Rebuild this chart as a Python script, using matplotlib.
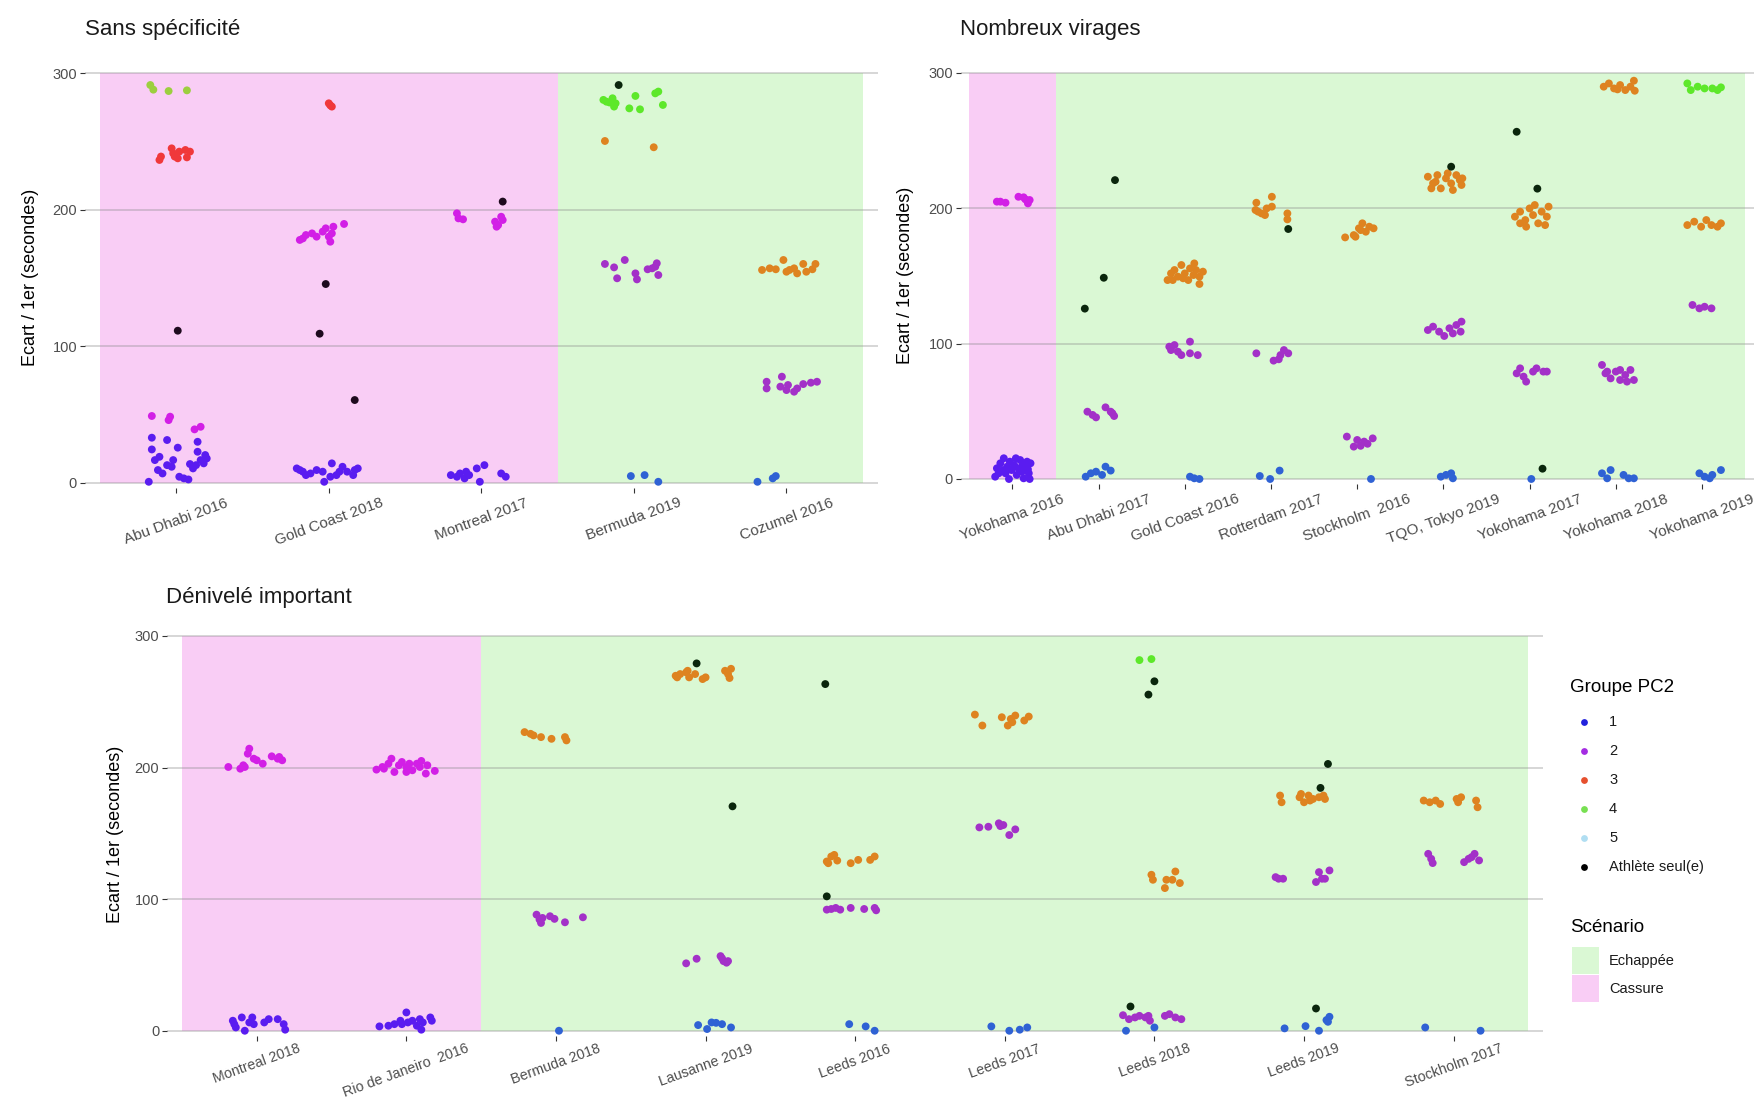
import matplotlib
matplotlib.use("Agg")
import matplotlib.pyplot as plt
from matplotlib.patches import Rectangle

plt.rcParams['font.family'] = ['Liberation Sans', 'DejaVu Sans']

# ---------------- DATA ----------------
# each point: (category index, jitter offset, gap to winner in seconds)
SS_CATS = ["Abu Dhabi 2016", "Gold Coast 2018", "Montreal 2017", "Bermuda 2019", "Cozumel 2016"]
SS_SCEN = ["Cassure", "Cassure", "Cassure", "Echappée", "Echappée"]
SS_G1 = [(1,-0.16,33.0),(1,-0.16,24.4),(1,-0.06,31.3),(1,0.01,25.7),(1,0.14,30.0),(1,-0.14,16.6),(1,-0.11,19.0),
         (1,-0.09,6.8),(1,-0.03,11.7),(1,-0.02,16.6),(1,0.02,4.4),(1,0.08,2.4),(1,0.09,13.7),(1,0.11,10.5),
         (1,0.14,22.7),(1,0.16,16.6),(1,0.18,14.2),(1,0.20,17.8),(1,-0.18,0.7),(1,0.05,3.2),(1,0.13,12.9),
         (1,0.19,20.3),(1,-0.06,12.9),(1,-0.12,9.3),
         (2,-0.21,10.5),(2,-0.17,8.1),(2,-0.12,6.8),(2,-0.04,8.1),(2,-0.03,0.7),(2,0.02,14.2),(2,0.05,5.6),
         (2,0.09,11.7),(2,0.12,8.1),(2,0.16,5.6),(2,0.19,10.5),(2,-0.19,9.3),(2,-0.15,5.6),(2,-0.08,9.3),
         (2,0.01,4.4),(2,0.07,8.1),(2,0.17,9.3),
         (3,-0.20,5.6),(3,-0.14,6.8),(3,-0.11,3.2),(3,-0.08,5.6),(3,-0.03,10.5),(3,-0.01,0.7),(3,0.02,12.9),
         (3,0.13,6.8),(3,0.16,4.4),(3,-0.16,4.4),(3,-0.10,8.1),
         (4,-0.02,4.9),(4,0.07,5.6),(4,0.16,0.7),
         (5,-0.19,0.7),(5,-0.09,3.2),(5,-0.07,4.9)]
SS_G2 = [(1,-0.16,48.9),(1,-0.05,45.9),(1,-0.04,48.4),(1,0.12,39.1),(1,0.16,41.0),
         (2,-0.19,177.9),(2,-0.15,181.5),(2,-0.11,182.7),(2,-0.04,184.0),(2,0.00,180.3),(2,0.01,176.6),
         (2,0.03,187.6),(2,0.10,189.6),(2,-0.17,179.0),(2,-0.02,186.4),(2,0.02,182.7),(2,-0.08,180.3),
         (3,-0.16,197.4),(3,-0.15,193.7),(3,-0.12,193.0),(3,0.09,191.3),(3,0.11,188.8),(3,0.13,194.9),
         (3,0.10,187.6),(3,0.14,192.5),
         (4,-0.19,160.3),(4,-0.13,157.8),(4,-0.06,163.2),(4,-0.11,149.8),(4,0.01,153.4),(4,0.02,149.0),
         (4,0.09,156.4),(4,0.14,158.3),(4,0.16,152.2),(4,0.15,160.8),(4,0.12,157.1),
         (5,-0.13,74.0),(5,-0.03,77.7),(5,-0.04,70.4),(5,0.01,71.6),(5,0.05,66.7),(5,0.11,72.3),(5,0.16,73.3),
         (5,0.20,74.0),(5,0.00,67.9),(5,0.07,69.1),(5,-0.13,69.1)]
SS_G3 = [(1,-0.11,236.5),(1,-0.10,239.0),(1,-0.03,245.0),(1,-0.01,239.0),(1,0.02,242.6),(1,0.06,243.8),
         (1,0.07,238.4),(1,0.09,242.6),(1,-0.02,241.4),(1,0.01,237.7),
         (2,0.00,278.0),(2,0.02,275.6),(2,0.01,276.5),
         (4,-0.19,250.4),(4,0.13,245.8),
         (5,-0.16,155.9),(5,-0.11,157.1),(5,-0.02,163.2),(5,0.00,154.6),(5,0.05,157.1),(5,0.11,160.3),
         (5,0.13,154.6),(5,0.19,160.3),(5,-0.07,156.4),(5,0.07,153.4),(5,0.17,156.4),(5,0.02,155.9)]
SS_G4 = [(1,-0.17,291.4),(1,-0.15,288.0),(1,-0.05,287.0),(1,0.07,287.5),
         (4,-0.20,280.5),(4,-0.18,279.2),(4,-0.14,281.7),(4,-0.12,278.0),(4,-0.13,275.6),(4,-0.03,274.3),
         (4,0.01,283.4),(4,0.04,273.6),(4,0.14,285.3),(4,0.16,286.6),(4,0.19,276.8),(4,-0.16,278.6)]
SS_ALONE = [(1,0.01,111.4),(2,-0.02,145.6),(2,-0.06,109.2),(2,0.17,60.6),(3,0.14,206.0),(4,-0.10,291.4)]

NV_CATS = ["Yokohama 2016", "Abu Dhabi 2017", "Gold Coast 2016", "Rotterdam 2017", "Stockholm  2016",
           "TQO, Tokyo 2019", "Yokohama 2017", "Yokohama 2018", "Yokohama 2019"]
NV_SCEN = ["Cassure"] + ["Echappée"] * 8
NV_G1 = [(1,-0.20,1.7),(1,-0.18,7.9),(1,-0.14,11.6),(1,-0.10,15.3),(1,-0.08,4.2),(1,-0.06,9.1),(1,-0.04,0.0),
         (1,-0.03,12.8),(1,-0.01,6.6),(1,0.02,10.3),(1,0.05,3.0),(1,0.07,7.9),(1,0.09,14.0),(1,0.11,5.4),
         (1,0.13,0.5),(1,0.15,9.1),(1,0.17,12.8),(1,0.19,4.2),(1,0.20,0.0),(1,0.21,11.6),(1,-0.16,4.2),
         (1,-0.11,6.6),(1,0.04,15.3),(1,0.12,11.1),(1,0.18,7.1),
         (2,-0.15,1.7),(2,-0.09,4.2),(2,-0.03,5.4),(2,0.04,3.0),(2,0.08,9.1),(2,0.14,6.2),
         (3,0.06,1.7),(3,0.11,0.5),(3,0.17,0.0),
         (4,-0.13,2.2),(4,-0.01,0.0),(4,0.10,6.2),
         (5,0.16,0.0),
         (6,-0.03,1.7),(6,0.03,3.0),(6,0.09,4.2),(6,0.11,0.5),
         (7,0.02,0.0),
         (8,-0.16,4.2),(8,-0.10,0.5),(8,-0.06,6.6),(8,0.09,3.0),(8,0.15,0.5),(8,0.21,0.5),
         (9,-0.03,4.2),(9,0.03,1.7),(9,0.09,0.5),(9,0.12,3.0),(9,0.22,6.6)]
NV_G2 = [(1,-0.18,204.8),(1,-0.08,204.0),(1,0.07,208.4),(1,0.13,208.0),(1,0.18,203.5),(1,0.20,206.0),
         (1,-0.14,204.8),(1,0.15,206.5),
         (2,-0.13,49.7),(2,-0.07,47.3),(2,-0.03,45.5),(2,0.08,52.9),(2,0.14,49.7),(2,0.18,46.5),(2,0.16,48.5),
         (3,-0.18,97.7),(3,-0.12,98.9),(3,-0.08,94.0),(3,-0.04,91.5),(3,0.06,101.4),(3,0.06,92.8),(3,0.15,91.5),
         (3,-0.16,95.2),
         (4,-0.17,92.8),(4,0.03,87.4),(4,0.11,91.5),(4,0.15,95.2),(4,0.20,92.8),(4,0.09,88.4),
         (5,-0.12,31.3),(5,-0.04,23.9),(5,0.00,28.8),(5,0.08,27.6),(5,0.18,30.0),(5,0.04,24.5),(5,0.12,26.0),
         (6,-0.18,110.0),(6,-0.12,112.5),(6,-0.05,108.8),(6,0.01,105.6),(6,0.07,111.3),(6,0.15,113.7),
         (6,0.21,116.2),(6,0.20,108.8),(6,0.11,107.5),
         (7,-0.15,78.0),(7,-0.11,81.7),(7,-0.07,75.6),(7,-0.04,71.9),(7,0.04,79.3),(7,0.08,81.7),(7,0.16,79.3),
         (7,0.20,79.3),
         (8,-0.16,84.2),(8,-0.10,79.3),(8,-0.06,74.3),(8,0.00,79.3),(8,0.05,73.1),(8,0.11,76.8),(8,0.17,80.5),
         (8,0.21,73.1),(8,-0.12,78.0),(8,0.05,80.5),(8,0.13,71.9),
         (9,-0.11,128.5),(9,-0.03,126.0),(9,0.03,127.2),(9,0.11,126.0)]
NV_G3 = [(3,-0.20,146.9),(3,-0.16,151.8),(3,-0.12,154.3),(3,-0.08,149.4),(3,-0.04,158.0),(3,0.00,151.8),
         (3,0.04,146.9),(3,0.06,155.5),(3,0.10,150.6),(3,0.13,154.3),(3,0.17,149.4),(3,0.21,153.1),
         (3,0.17,144.0),(3,-0.14,146.9),(3,0.11,159.2),(3,-0.02,148.2),
         (4,-0.17,204.0),(4,0.01,208.4),(4,-0.15,197.4),(4,-0.11,196.1),(4,-0.05,199.8),(4,0.01,201.1),
         (4,-0.07,194.9),(4,0.19,196.1),(4,0.19,191.7),(4,-0.18,198.6),
         (5,-0.14,178.4),(5,-0.02,178.9),(5,0.02,185.1),(5,-0.04,180.1),(5,0.06,188.8),(5,0.14,186.3),
         (5,0.19,185.1),(5,0.04,183.8),(5,0.10,182.6),
         (6,-0.18,223.2),(6,-0.12,218.3),(6,-0.07,224.4),(6,-0.03,214.6),(6,0.03,222.0),(6,0.09,218.3),
         (6,0.15,224.4),(6,0.21,217.1),(6,0.22,222.0),(6,-0.14,214.6),(6,0.11,213.4),(6,0.19,220.8),
         (6,-0.09,219.5),(6,0.05,225.7),
         (7,-0.17,193.7),(7,-0.11,197.4),(7,-0.05,191.2),(7,0.00,199.8),(7,0.04,194.9),(7,0.10,188.8),
         (7,0.14,197.4),(7,0.20,193.7),(7,0.22,201.1),(7,-0.04,186.3),(7,0.06,202.3),(7,0.18,187.5),
         (7,-0.11,188.8),
         (8,-0.14,289.7),(8,-0.08,292.1),(8,-0.02,288.4),(8,0.05,290.9),(8,0.11,287.2),(8,0.17,289.7),
         (8,0.21,294.1),(8,0.22,286.7),(8,0.02,287.7),
         (9,-0.17,187.5),(9,-0.09,190.0),(9,-0.01,186.3),(9,0.05,191.2),(9,0.11,187.5),(9,0.18,186.3),
         (9,0.22,188.8)]
NV_G4 = [(9,-0.17,292.1),(9,-0.13,287.2),(9,-0.05,289.7),(9,0.03,288.4),(9,0.12,288.4),(9,0.18,287.2),
         (9,0.22,289.2)]
NV_ALONE = [(2,0.19,220.7),(2,0.06,148.6),(2,-0.16,125.8),(4,0.20,184.6),(6,0.09,230.6),(7,-0.15,256.4),
            (7,0.09,214.4),(7,0.15,7.6)]

DI_CATS = ["Montreal 2018", "Rio de Janeiro  2016", "Bermuda 2018", "Lausanne 2019", "Leeds 2016",
           "Leeds 2017", "Leeds 2018", "Leeds 2019", "Stockholm 2017"]
DI_SCEN = ["Cassure"] * 2 + ["Echappée"] * 7
DI_G1 = [(1,-0.16,7.6),(1,-0.14,2.5),(1,-0.10,10.1),(1,-0.08,0.0),(1,-0.05,6.3),(1,-0.03,10.1),(1,-0.02,5.0),
         (1,0.05,6.3),(1,0.08,8.8),(1,0.14,8.8),(1,0.18,5.0),(1,0.19,0.8),(1,-0.15,5.0),
         (2,-0.18,3.3),(2,-0.12,3.8),(2,-0.08,5.0),(2,-0.04,7.6),(2,0.00,13.9),(2,0.01,6.3),(2,0.04,7.6),
         (2,0.07,3.8),(2,0.10,0.8),(2,0.11,6.3),(2,0.16,10.1),(2,0.17,7.6),(2,0.09,8.8),(2,-0.03,5.0),
         (3,0.02,0.0),
         (4,-0.05,4.3),(4,0.01,1.3),(4,0.04,6.3),(4,0.07,6.0),(4,0.17,2.5),(4,0.11,5.0),
         (5,-0.04,5.0),(5,0.07,3.3),(5,0.13,0.0),
         (6,-0.09,3.3),(6,0.03,0.0),(6,0.10,0.8),(6,0.15,2.5),
         (7,-0.19,0.0),(7,0.00,2.5),
         (8,-0.13,1.8),(8,0.01,3.5),(8,0.10,0.0),(8,0.16,6.8),(8,0.17,10.6),(8,0.15,8.1),
         (9,-0.19,2.5),(9,0.18,0.0)]
DI_G2 = [(1,-0.19,200.4),(1,-0.11,199.1),(1,-0.09,201.7),(1,-0.05,214.3),(1,-0.06,210.5),(1,-0.02,206.7),
         (1,0.00,205.5),(1,0.04,202.9),(1,0.10,208.5),(1,0.14,206.7),(1,0.17,205.5),(1,0.15,208.0),
         (1,-0.08,200.4),
         (2,-0.20,198.4),(2,-0.16,200.4),(2,-0.12,202.9),(2,-0.10,206.7),(2,-0.08,196.6),(2,-0.05,201.7),
         (2,-0.03,204.2),(2,0.00,200.4),(2,0.02,202.9),(2,0.04,197.9),(2,0.07,202.9),(2,0.10,205.0),
         (2,0.13,195.4),(2,0.14,201.7),(2,0.19,197.4),(2,-0.15,199.1),(2,0.00,196.6),(2,0.09,200.4),
         (3,-0.13,88.2),(3,-0.10,81.9),(3,-0.09,85.7),(3,-0.04,87.0),(3,-0.01,85.0),(3,0.06,82.4),(3,0.18,86.2),
         (3,-0.11,84.5),
         (4,-0.13,51.2),(4,-0.06,54.7),(4,0.10,56.7),(4,0.12,52.9),(4,0.14,51.7),(4,0.15,52.9),(4,0.11,55.0),
         (5,-0.19,92.0),(5,-0.13,93.3),(5,-0.10,92.0),(5,-0.03,93.3),(5,0.06,92.5),(5,0.13,93.3),(5,0.14,91.5),
         (5,-0.16,92.5),
         (6,-0.17,154.5),(6,-0.11,155.0),(6,-0.04,157.6),(6,-0.01,156.3),(6,0.03,148.7),(6,0.07,153.0),
         (6,-0.03,155.5),
         (7,-0.21,11.8),(7,-0.17,8.8),(7,-0.13,10.1),(7,-0.10,11.3),(7,-0.06,10.1),(7,-0.03,7.6),(7,-0.04,11.3),
         (7,0.07,11.3),(7,0.10,12.6),(7,0.14,10.1),(7,0.18,8.8),
         (8,-0.19,116.7),(8,-0.17,115.5),(8,-0.14,115.5),(8,0.08,113.0),(8,0.10,120.5),(8,0.12,115.5),
         (8,0.17,121.8),(8,0.14,115.5),
         (9,-0.17,134.4),(9,-0.15,130.6),(9,-0.14,127.4),(9,0.07,128.1),(9,0.10,130.6),(9,0.12,131.9),
         (9,0.14,134.4),(9,0.17,129.4)]
DI_G3 = [(3,-0.21,226.9),(3,-0.17,225.6),(3,-0.15,224.4),(3,-0.10,223.1),(3,-0.03,221.8),(3,0.06,223.1),
         (3,0.07,220.6),
         (4,-0.20,269.7),(4,-0.17,271.0),(4,-0.13,272.3),(4,-0.11,268.5),(4,-0.07,271.0),(4,-0.02,267.2),
         (4,0.00,268.5),(4,-0.12,273.5),(4,-0.19,268.5),(4,0.13,273.5),(4,0.15,271.0),(4,0.16,268.0),
         (4,0.17,275.0),
         (5,-0.19,128.6),(5,-0.16,132.4),(5,-0.14,133.6),(5,-0.12,129.3),(5,-0.03,127.3),(5,0.02,129.8),
         (5,0.10,129.8),(5,0.13,132.4),(5,-0.18,127.3),
         (6,-0.20,240.2),(6,-0.15,231.9),(6,-0.02,238.2),(6,0.02,231.9),(6,0.04,236.9),(6,0.07,239.5),
         (6,0.13,235.7),(6,0.16,238.7),(6,0.05,234.4),
         (7,-0.02,118.5),(7,-0.01,114.7),(7,0.07,108.4),(7,0.08,114.7),(7,0.12,114.7),(7,0.14,121.0),
         (7,0.17,112.2),
         (8,-0.16,178.7),(8,-0.15,173.6),(8,-0.03,177.4),(8,0.00,173.6),(8,0.03,178.7),(8,0.06,176.1),
         (8,0.10,177.4),(8,0.14,176.1),(8,0.13,178.7),(8,-0.02,179.9),(8,0.04,174.9),
         (9,-0.20,174.9),(9,-0.16,173.6),(9,-0.12,174.9),(9,-0.09,172.3),(9,0.02,176.1),(9,0.05,177.4),
         (9,0.15,174.9),(9,0.16,169.8),(9,0.03,173.6)]
DI_G4 = [(7,-0.10,281.6),(7,-0.02,282.4)]
DI_ALONE = [(4,-0.06,279.1),(4,0.18,170.5),(5,-0.20,263.4),(5,-0.19,102.1),(7,0.00,265.5),(7,-0.04,255.4),
            (7,-0.16,18.4),(8,0.16,202.7),(8,0.11,184.5),(8,0.08,16.9)]

GROUP_LABELS = ["1", "2", "3", "4", "5", "Athlète seul(e)"]
SCEN_LABELS = ["Echappée", "Cassure"]
Y_TICKS = [0, 100, 200, 300]

# ---------------- STYLE ----------------
BG = {"Cassure": "#f9cdf5", "Echappée": "#daf8d4"}
PT_COL = {
    "Cassure": {"1": "#5a1cf0", "2": "#d21fe6", "3": "#f0383a", "4": "#9ccf3f", "A": "#1e0a1e"},
    "Echappée": {"1": "#2f62d4", "2": "#a331c8", "3": "#de8320", "4": "#5de82a", "A": "#0a260c"},
}
LEG_COL = ["#2222dd", "#a42ce2", "#e6502e", "#78e052", "#b0def2", "#000000"]

W, H = 1761, 1102
fig = plt.figure(figsize=(W / 100, H / 100), dpi=100)
fig.patch.set_facecolor("white")


def px_axes(x0, x1, y0, y1):
    return fig.add_axes([x0 / W, 1 - y1 / H, (x1 - x0) / W, (y1 - y0) / H])


def draw_panel(ax, cats, scen, groups, xfs=11, xpad=2):
    n = len(cats)
    ax.set_xlim(0.4, n + 0.6)
    ax.set_ylim(-4, 306)
    ax.set_facecolor("none")
    i = 0
    while i < n:
        j = i
        while j + 1 < n and scen[j + 1] == scen[i]:
            j += 1
        ax.add_patch(Rectangle((i + 0.5, 0), j - i + 1, 300, facecolor=BG[scen[i]],
                               edgecolor="none", zorder=0))
        i = j + 1
    for v in Y_TICKS:
        ax.axhline(v, color="#8c8c8c", alpha=0.35, lw=1.4, zorder=1)
    for key, pts in groups:
        xs = [c + dx for c, dx, y in pts]
        ys = [y for c, dx, y in pts]
        cols = [PT_COL[scen[c - 1]][key] for c, dx, y in pts]
        ax.scatter(xs, ys, s=32, c=cols, linewidths=0, zorder=3)
    ax.set_xticks(range(1, n + 1))
    ax.set_xticklabels(cats, rotation=20, ha="center", va="top", fontsize=xfs, color="#4d4d4d")
    ax.set_yticks(Y_TICKS)
    ax.set_yticklabels([str(v) for v in Y_TICKS], fontsize=10.5, color="#4d4d4d")
    ax.tick_params(length=3.5, width=0.8, color="#333333", pad=2)
    ax.tick_params(axis="x", pad=xpad)
    for s in ax.spines.values():
        s.set_visible(False)


# top-left
ax1 = px_axes(84.7, 878.0, 65.1, 488.2)
draw_panel(ax1, SS_CATS, SS_SCEN, [("1", SS_G1), ("2", SS_G2), ("3", SS_G3), ("4", SS_G4), ("A", SS_ALONE)])
# top-right
ax2 = px_axes(960.7, 1753.7, 64.6, 484.4)
draw_panel(ax2, NV_CATS, NV_SCEN, [("1", NV_G1), ("2", NV_G2), ("3", NV_G3), ("4", NV_G4), ("A", NV_ALONE)])
# bottom (nudged up a little so the long rotated labels stay inside the figure)
ax3 = px_axes(167.0, 1543.4, 628.0, 1036.0)
draw_panel(ax3, DI_CATS, DI_SCEN, [("1", DI_G1), ("2", DI_G2), ("3", DI_G3), ("4", DI_G4), ("A", DI_ALONE)],
           xfs=10.3, xpad=0.5)

# titles and axis titles
def ftext(x, y, s, **kw):
    fig.text(x / W, 1 - y / H, s, **kw)

ftext(85, 30, "Sans spécificité", fontsize=16, ha="left", va="center", color="#1a1a1a")
ftext(960, 30, "Nombreux virages", fontsize=16, ha="left", va="center", color="#1a1a1a")
ftext(166, 598, "Dénivelé important", fontsize=16, ha="left", va="center", color="#1a1a1a")
ylab = "Ecart / 1er (secondes)"
ftext(31, 277, ylab, fontsize=13, rotation=90, ha="center", va="center")
ftext(906, 275, ylab, fontsize=13, rotation=90, ha="center", va="center")
ftext(116, 834, ylab, fontsize=13, rotation=90, ha="center", va="center")

# legend (drawn on an overlay in pixel coordinates)
lax = fig.add_axes([0, 0, 1, 1])
lax.set_xlim(0, W)
lax.set_ylim(H, 0)
lax.axis("off")
lax.text(1570, 688, "Groupe PC2", fontsize=13.5, ha="left", va="center")
for k, (lab, col) in enumerate(zip(GROUP_LABELS, LEG_COL)):
    yy = 721.7 + k * 29
    lax.scatter([1584], [yy], s=24, color=col, linewidths=0)
    lax.text(1609, yy, lab, fontsize=10.5, ha="left", va="center", color="#1a1a1a")
lax.text(1570, 928, "Scénario", fontsize=13.5, ha="left", va="center")
for k, lab in enumerate(SCEN_LABELS):
    y0 = 947 + k * 28.3
    lax.add_patch(Rectangle((1572, y0), 26.5, 27, facecolor=BG[lab], edgecolor="none"))
    lax.text(1609, y0 + 14, lab, fontsize=10.5, ha="left", va="center", color="#1a1a1a")

fig.savefig("out.png", dpi=100, facecolor=fig.get_facecolor())
